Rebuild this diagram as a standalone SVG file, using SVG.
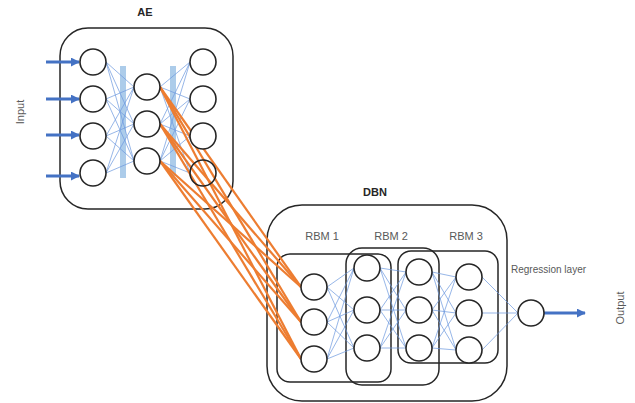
<svg xmlns="http://www.w3.org/2000/svg" width="635" height="403" viewBox="0 0 635 403">
<defs>
<style>
.box{fill:none;stroke:#262626;stroke-width:1.5}
.node{fill:#fff;stroke:#262626;stroke-width:1.6}
.bl{stroke:#6f9be0;stroke-width:0.9;opacity:0.8}
.or{stroke:#ED7D31;stroke-width:2.2}
.arr{stroke:#4472C4;stroke-width:3;fill:none}
.bar{fill:#9DC3E6;opacity:0.85}
.lbl{font-family:"Liberation Sans",Arial,sans-serif;font-size:11px;fill:#595959}
.ttl{font-family:"Liberation Sans",Arial,sans-serif;font-size:11px;font-weight:bold;fill:#262626}
</style>
<marker id="ah" viewBox="0 0 10 10" refX="9" refY="5" markerWidth="3" markerHeight="3" orient="auto" markerUnits="strokeWidth">
<path d="M0,0 L10,5 L0,10 z" fill="#4472C4"/>
</marker>
</defs>
<rect width="635" height="403" fill="#fff"/>
<g id="ae-box"><rect class="box" x="60" y="28" width="173" height="181" rx="28"/></g>
<g id="dbn-box"><rect class="box" x="267" y="205" width="240" height="196" rx="35"/></g>
<g id="rbm1-box"><rect class="box" x="277" y="254" width="114" height="128" rx="13"/></g>
<g id="rbm2-box"><rect class="box" x="346" y="248" width="93" height="137" rx="16"/></g>
<g id="rbm3-box"><rect class="box" x="398" y="251" width="100" height="112" rx="13"/></g>
<g id="bars">
<rect class="bar" x="120" y="66" width="6" height="112"/>
<rect class="bar" x="170" y="66" width="6" height="110"/>
</g>
<g id="connectors">
<g id="ae-links">
<line class="bl" x1="106" y1="62" x2="134" y2="87"/><line class="bl" x1="106" y1="62" x2="134" y2="124"/><line class="bl" x1="106" y1="62" x2="134" y2="161"/>
<line class="bl" x1="106" y1="99" x2="134" y2="87"/><line class="bl" x1="106" y1="99" x2="134" y2="124"/><line class="bl" x1="106" y1="99" x2="134" y2="161"/>
<line class="bl" x1="106" y1="136" x2="134" y2="87"/><line class="bl" x1="106" y1="136" x2="134" y2="124"/><line class="bl" x1="106" y1="136" x2="134" y2="161"/>
<line class="bl" x1="106" y1="173" x2="134" y2="87"/><line class="bl" x1="106" y1="173" x2="134" y2="124"/><line class="bl" x1="106" y1="173" x2="134" y2="161"/>
<line class="bl" x1="160" y1="87" x2="190" y2="62"/><line class="bl" x1="160" y1="87" x2="190" y2="99"/><line class="bl" x1="160" y1="87" x2="190" y2="136"/><line class="bl" x1="160" y1="87" x2="190" y2="173"/>
<line class="bl" x1="160" y1="124" x2="190" y2="62"/><line class="bl" x1="160" y1="124" x2="190" y2="99"/><line class="bl" x1="160" y1="124" x2="190" y2="136"/><line class="bl" x1="160" y1="124" x2="190" y2="173"/>
<line class="bl" x1="160" y1="161" x2="190" y2="62"/><line class="bl" x1="160" y1="161" x2="190" y2="99"/><line class="bl" x1="160" y1="161" x2="190" y2="136"/><line class="bl" x1="160" y1="161" x2="190" y2="173"/>
</g>
<g id="dbn-links">
<line class="bl" x1="327" y1="287" x2="354" y2="268"/><line class="bl" x1="327" y1="287" x2="354" y2="310"/><line class="bl" x1="327" y1="287" x2="354" y2="348"/>
<line class="bl" x1="327" y1="322" x2="354" y2="268"/><line class="bl" x1="327" y1="322" x2="354" y2="310"/><line class="bl" x1="327" y1="322" x2="354" y2="348"/>
<line class="bl" x1="327" y1="359" x2="354" y2="268"/><line class="bl" x1="327" y1="359" x2="354" y2="310"/><line class="bl" x1="327" y1="359" x2="354" y2="348"/>
<line class="bl" x1="380" y1="268" x2="406" y2="272"/><line class="bl" x1="380" y1="268" x2="406" y2="310"/><line class="bl" x1="380" y1="268" x2="406" y2="348"/>
<line class="bl" x1="380" y1="310" x2="406" y2="272"/><line class="bl" x1="380" y1="310" x2="406" y2="310"/><line class="bl" x1="380" y1="310" x2="406" y2="348"/>
<line class="bl" x1="380" y1="348" x2="406" y2="272"/><line class="bl" x1="380" y1="348" x2="406" y2="310"/><line class="bl" x1="380" y1="348" x2="406" y2="348"/>
<line class="bl" x1="432" y1="272" x2="456" y2="277"/><line class="bl" x1="432" y1="272" x2="456" y2="313"/><line class="bl" x1="432" y1="272" x2="456" y2="350"/>
<line class="bl" x1="432" y1="310" x2="456" y2="277"/><line class="bl" x1="432" y1="310" x2="456" y2="313"/><line class="bl" x1="432" y1="310" x2="456" y2="350"/>
<line class="bl" x1="432" y1="348" x2="456" y2="277"/><line class="bl" x1="432" y1="348" x2="456" y2="313"/><line class="bl" x1="432" y1="348" x2="456" y2="350"/>
<line class="bl" x1="482" y1="277" x2="518" y2="313"/><line class="bl" x1="482" y1="313" x2="518" y2="313"/><line class="bl" x1="482" y1="350" x2="518" y2="313"/>
</g>
<g id="ae-to-dbn">
<line class="or" x1="160" y1="87" x2="301" y2="287"/><line class="or" x1="160" y1="87" x2="301" y2="322"/><line class="or" x1="160" y1="87" x2="301" y2="359"/>
<line class="or" x1="160" y1="124" x2="301" y2="287"/><line class="or" x1="160" y1="124" x2="301" y2="322"/><line class="or" x1="160" y1="124" x2="301" y2="359"/>
<line class="or" x1="160" y1="161" x2="301" y2="287"/><line class="or" x1="160" y1="161" x2="301" y2="322"/><line class="or" x1="160" y1="161" x2="301" y2="359"/>
</g>
<g id="io-arrows">
<line class="arr" x1="46" y1="62" x2="79" y2="62" marker-end="url(#ah)"/>
<line class="arr" x1="46" y1="99" x2="79" y2="99" marker-end="url(#ah)"/>
<line class="arr" x1="46" y1="135" x2="79" y2="135" marker-end="url(#ah)"/>
<line class="arr" x1="46" y1="176" x2="79" y2="176" marker-end="url(#ah)"/>
<line class="arr" x1="544" y1="313" x2="585" y2="313" marker-end="url(#ah)"/>
</g>
</g>
<g id="ae-in"><circle class="node" cx="93" cy="62" r="13"/><circle class="node" cx="93" cy="99" r="13"/><circle class="node" cx="93" cy="136" r="13"/><circle class="node" cx="93" cy="173" r="13"/></g>
<g id="ae-hidden"><circle class="node" cx="147" cy="87" r="13"/><circle class="node" cx="147" cy="124" r="13"/><circle class="node" cx="147" cy="161" r="13"/></g>
<g id="ae-out"><circle class="node" cx="203" cy="62" r="13"/><circle class="node" cx="203" cy="99" r="13"/><circle class="node" cx="203" cy="136" r="13"/><circle class="node" cx="203" cy="173" r="13" style="fill:none"/></g>
<g id="dbn-l1"><circle class="node" cx="314" cy="287" r="13"/><circle class="node" cx="314" cy="322" r="13"/><circle class="node" cx="314" cy="359" r="13"/></g>
<g id="dbn-l2"><circle class="node" cx="367" cy="268" r="13"/><circle class="node" cx="367" cy="310" r="13"/><circle class="node" cx="367" cy="348" r="13"/></g>
<g id="dbn-l3"><circle class="node" cx="419" cy="272" r="13"/><circle class="node" cx="419" cy="310" r="13"/><circle class="node" cx="419" cy="348" r="13"/></g>
<g id="dbn-l4"><circle class="node" cx="469" cy="277" r="13"/><circle class="node" cx="469" cy="313" r="13"/><circle class="node" cx="469" cy="350" r="13"/></g>
<g id="regression"><circle class="node" cx="531" cy="313" r="13"/></g>
<g id="labels">
<text class="ttl" x="145" y="16" text-anchor="middle">AE</text>
<text class="ttl" x="375" y="196" text-anchor="middle">DBN</text>
<text class="lbl" x="322" y="240" text-anchor="middle">RBM 1</text>
<text class="lbl" x="391" y="240" text-anchor="middle">RBM 2</text>
<text class="lbl" x="466" y="240" text-anchor="middle">RBM 3</text>
<text class="lbl" x="511" y="273" style="font-size:10px">Regression layer</text>
<text class="lbl" transform="translate(24,112) rotate(-90)" text-anchor="middle">Input</text>
<text class="lbl" transform="translate(624,308) rotate(-90)" text-anchor="middle">Output</text>
</g>
</svg>
